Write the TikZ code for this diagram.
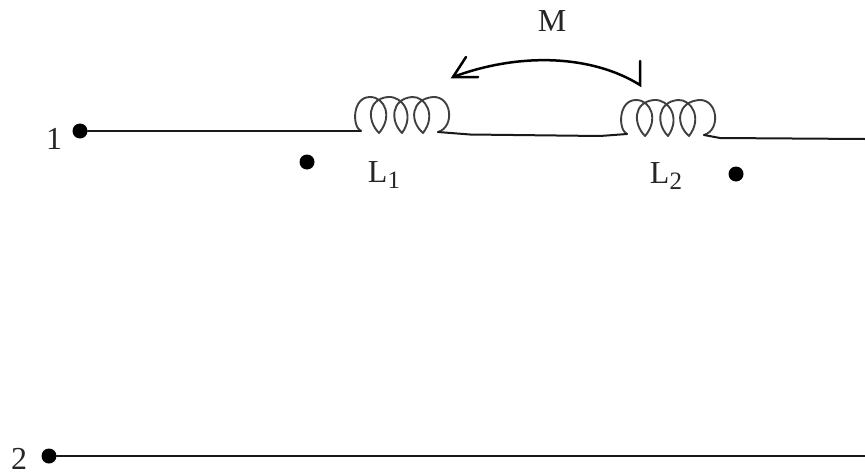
\documentclass[tikz,border=0pt]{standalone}
\usepackage{fontspec}
\setmainfont{Liberation Serif}
\newcommand{\labelsub}[2]{#1\raisebox{-6pt}{\fontsize{25}{25}\selectfont #2}}
\tikzset{
  wire/.style={line width=2pt,line cap=round,line join=round,black!90},
  heavy/.style={line width=2.5pt,line cap=round,line join=miter,black},
  coilline/.style={line width=1.9pt,line cap=round,line join=round,black!75},
  terminal/.style={circle,fill=black,inner sep=0pt,minimum size=15pt},
  txt/.style={inner sep=0pt,font=\fontsize{32}{32}\selectfont,text=black!85},
  coilpic/.pic={
    \draw[coilline] (6,34) .. controls (-3,30) and (-3,0) .. (15,0)
      .. controls (30,0) and (38,20) .. (24,36)
      .. controls (12,24) and (12,2) .. (33,0)
      .. controls (48,-1) and (60,18) .. (47,36)
      .. controls (35,24) and (36,2) .. (57,0)
      .. controls (70,-1) and (82,18) .. (68,36)
      .. controls (54,24) and (56,2) .. (78,0)
      .. controls (97,-1) and (100,30) .. (83,35);
    \coordinate (-in) at (6,34);
    \coordinate (-out) at (83,35);
  }
}
\begin{document}
\begin{tikzpicture}[x=1pt,y=-1pt]
\useasboundingbox (0,0) rectangle (865,474);
\node[terminal] (t1) at (80,131) {};
\node[terminal] (t2) at (49,456) {};
\node[terminal] (d1) at (307,162) {};
\node[terminal] (d2) at (736,174) {};
\node[txt] (n1) at (54,139) {1};
\node[txt] (n2) at (19,459) {2};
\node[txt] (m) at (552,21) {M};
\node[txt] (l1) at (384,175) {\labelsub{L}{1}};
\node[txt] (l2) at (666,176) {\labelsub{L}{2}};
\pic (c1) at (355,97) {coilpic};
\pic (c2) at (621,100) {coilpic};
\coordinate (e1) at (865,139);
\coordinate (e2) at (865,456);
\coordinate (a0) at (640,61);
\coordinate (a1) at (640,85);
\coordinate (tip) at (453,77);
\coordinate (b1) at (466,57);
\coordinate (b2) at (478,77);
\draw[wire] (t1) -- (c1-in);
\draw[wire] (c1-out) -- (470,134.5) -- (600,136) -- (c2-in);
\draw[wire] (c2-out) -- (720,138) -- (e1);
\draw[wire] (t2) -- (e2);
\draw[heavy] (a0) -- (a1) .. controls (592,55) and (520,52) .. (tip);
\draw[heavy] (b1) -- (tip) -- (b2);
\end{tikzpicture}
\end{document}
